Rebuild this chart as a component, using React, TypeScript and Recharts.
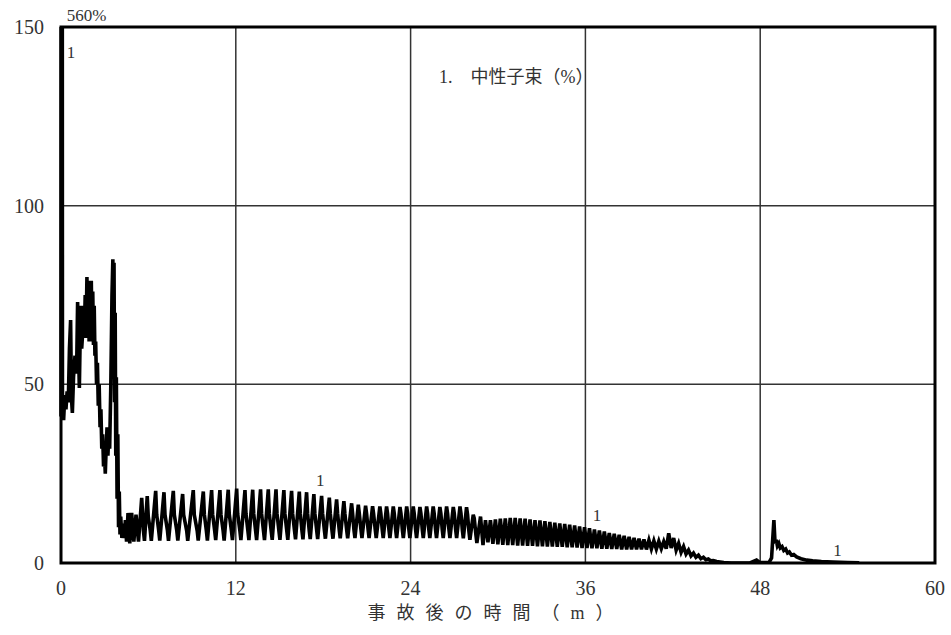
import {
  CartesianGrid,
  Label,
  Line,
  LineChart,
  ReferenceArea,
  ReferenceDot,
  XAxis,
  YAxis,
} from "recharts";

// 中性子束 (%) vs. time after accident (min)
const startTime = [
  0.0, 0.05, 0.1, 0.18, 0.26, 0.34, 0.42, 0.5, 0.58, 0.66, 0.72, 0.78, 0.86,
  0.96, 1.02, 1.08, 1.14, 1.2, 1.26, 1.35, 1.42, 1.48, 1.55, 1.6, 1.66, 1.72,
  1.78, 1.83, 1.88, 1.93, 1.98, 2.03, 2.08, 2.13, 2.18, 2.23, 2.28, 2.33, 2.38,
  2.44, 2.5, 2.56, 2.62, 2.68, 2.74, 2.8, 2.86, 2.92, 2.98, 3.04, 3.1, 3.16,
  3.22, 3.28, 3.34, 3.42, 3.5, 3.56, 3.6, 3.64, 3.68, 3.72, 3.76, 3.8, 3.85,
  3.9, 3.95, 4.0, 4.05, 4.1, 4.18, 4.26, 4.34, 4.42, 4.5, 4.6, 4.72, 4.85, 5.0,
  5.15, 5.32,
];
const startFlux = [
  41, 560, 44, 40, 47, 43, 48, 45, 60, 68, 46, 42, 52, 58, 53, 56, 73, 60, 49,
  72, 60, 64, 72, 63, 75, 64, 80, 63, 79, 62, 78, 62, 79, 63, 76, 61, 72, 58,
  62, 50, 56, 44, 50, 38, 43, 32, 36, 27, 31, 25, 32, 38, 30, 36, 32, 50, 75,
  85, 60, 84, 45, 70, 30, 52, 18, 36, 10, 20, 8, 13, 7, 11, 7, 12, 6, 14, 5.5,
  14, 6, 13.5, 6,
];

// one row per swing: peak, band top, band bottom, trough
const swingTime = [
  5.54, 5.61, 5.66, 5.73,
  5.92, 5.99, 6.13, 6.2,
  6.5, 6.57, 6.71, 6.78,
  7.07, 7.14, 7.31, 7.38,
  7.71, 7.78, 7.95, 8.02,
  8.35, 8.42, 8.63, 8.7,
  9.08, 9.15, 9.35, 9.42,
  9.77, 9.84, 9.98, 10.05,
  10.34, 10.41, 10.55, 10.62,
  10.91, 10.98, 11.13, 11.2,
  11.48, 11.55, 11.7, 11.77,
  12.06, 12.13, 12.28, 12.35,
  12.63, 12.7, 12.83, 12.9,
  13.16, 13.23, 13.36, 13.43,
  13.7, 13.77, 13.9, 13.97,
  14.23, 14.3, 14.43, 14.5,
  14.76, 14.83, 14.96, 15.03,
  15.3, 15.37, 15.5, 15.57,
  15.83, 15.9, 16.03, 16.1,
  16.36, 16.43, 16.54, 16.61,
  16.86, 16.93, 17.04, 17.11,
  17.36, 17.43, 17.55, 17.62,
  17.89, 17.96, 18.08, 18.15,
  18.42, 18.49, 18.6, 18.67,
  18.92, 18.99, 19.1, 19.17,
  19.42, 19.49, 19.61, 19.68,
  19.95, 20.02, 20.11, 20.18,
  20.41, 20.48, 20.59, 20.66,
  20.91, 20.98, 21.08, 21.15,
  21.39, 21.46, 21.57, 21.64,
  21.89, 21.96, 22.05, 22.12,
  22.35, 22.42, 22.51, 22.58,
  22.81, 22.88, 22.97, 23.04,
  23.27, 23.34, 23.43, 23.5,
  23.73, 23.8, 23.88, 23.95,
  24.18, 24.25, 24.34, 24.41,
  24.64, 24.71, 24.8, 24.87,
  25.1, 25.17, 25.25, 25.32,
  25.55, 25.62, 25.71, 25.78,
  26.01, 26.08, 26.17, 26.24,
  26.47, 26.54, 26.63, 26.7,
  26.93, 27.0, 27.09, 27.16,
  27.39, 27.46, 27.55, 27.62,
  27.84, 27.91, 28.0, 28.07,
  28.3, 28.37, 28.48, 28.55,
];
const swingFlux = [
  18.2, 13.0, 9.0, 6.2,
  18.7, 13.0, 9.0, 6.2,
  20.2, 13.5, 9.0, 6.3,
  19.8, 13.5, 9.0, 6.2,
  20.2, 13.5, 9.0, 6.3,
  19.3, 13.5, 9.0, 6.2,
  20.4, 13.5, 9.0, 6.3,
  20.0, 13.6, 9.0, 6.3,
  20.4, 13.6, 9.0, 6.4,
  20.4, 13.6, 9.0, 6.3,
  20.5, 13.7, 9.0, 6.4,
  20.8, 13.7, 9.0, 6.4,
  20.4, 13.7, 9.0, 6.4,
  20.5, 13.8, 9.0, 6.4,
  20.6, 13.8, 9.0, 6.4,
  20.6, 13.8, 9.0, 6.5,
  20.6, 13.8, 9.0, 6.5,
  20.4, 13.8, 9.0, 6.5,
  20.2, 13.8, 9.1, 6.6,
  20.0, 13.8, 9.1, 6.6,
  19.8, 13.8, 9.1, 6.7,
  19.3, 13.8, 9.2, 6.7,
  18.8, 13.8, 9.2, 6.8,
  18.3, 13.8, 9.2, 6.8,
  17.8, 13.8, 9.3, 6.9,
  17.3, 13.8, 9.3, 6.9,
  16.7, 13.8, 9.3, 7.0,
  16.3, 13.8, 9.4, 7.0,
  16.0, 13.8, 9.4, 7.0,
  15.9, 13.8, 9.4, 7.0,
  15.8, 13.8, 9.4, 7.0,
  15.8, 13.8, 9.4, 7.0,
  15.8, 13.8, 9.4, 7.0,
  15.7, 13.8, 9.4, 7.0,
  15.8, 13.8, 9.4, 7.0,
  15.8, 13.8, 9.4, 7.0,
  15.7, 13.8, 9.4, 7.0,
  15.8, 13.8, 9.4, 7.0,
  15.8, 13.8, 9.4, 7.0,
  15.7, 13.8, 9.4, 7.0,
  15.8, 13.8, 9.4, 7.0,
  15.7, 13.8, 9.4, 7.0,
  15.8, 13.8, 9.3, 6.9,
  15.6, 13.6, 9.0, 6.5,
  13.5, 12.5, 8.0, 5.6,
];

const decayTime = [
  28.8, 28.97, 29.14, 29.31, 29.48, 29.65, 29.82, 29.99, 30.16, 30.33, 30.5,
  30.67, 30.84, 31.01, 31.18, 31.35, 31.52, 31.69, 31.86, 32.03, 32.2, 32.37,
  32.54, 32.71, 32.88, 33.05, 33.22, 33.39, 33.56, 33.73, 33.9, 34.07, 34.24,
  34.41, 34.58, 34.75, 34.92, 35.09, 35.26, 35.43, 35.6, 35.77, 35.94, 36.11,
  36.28, 36.45, 36.62, 36.79, 36.96, 37.13, 37.3, 37.47, 37.64, 37.81, 37.98,
  38.15, 38.32, 38.49, 38.66, 38.83, 39.0, 39.17, 39.34, 39.51, 39.68, 39.85,
  40.02, 40.19, 40.36, 40.53, 40.7, 40.87, 41.04, 41.21, 41.38, 41.55, 41.72,
  41.89, 42.06, 42.23, 42.4, 42.57, 42.74, 42.91, 43.08, 43.25, 43.42, 43.59,
  43.76, 43.93, 44.1, 44.27, 44.44, 44.61, 44.78, 45.0, 45.5, 46.0,
];
const decayFlux = [
  13.0, 5.0, 12.0, 5.8, 12.0, 5.4, 12.2, 5.2, 12.4, 5.1, 12.5, 5.0, 12.6, 5.0,
  12.6, 4.9, 12.5, 4.9, 12.4, 4.8, 12.2, 4.8, 12.0, 4.7, 11.9, 4.7, 11.7, 4.6,
  11.5, 4.6, 11.3, 4.5, 11.1, 4.5, 10.9, 4.4, 10.7, 4.4, 10.5, 4.3, 10.2, 4.2,
  10.0, 4.2, 9.7, 4.1, 9.4, 4.1, 9.1, 4.0, 8.8, 4.0, 8.4, 3.9, 8.2, 3.9, 7.9,
  3.8, 7.6, 3.8, 7.3, 3.8, 7.0, 3.8, 6.8, 3.8, 6.6, 3.8, 6.4, 3.9, 6.2, 3.9,
  6.1, 4.0, 6.0, 4.0, 8.3, 4.2, 7.0, 3.6, 5.5, 3.0, 4.6, 2.5, 3.6, 2.0, 2.8,
  1.6, 2.2, 1.2, 1.6, 0.9, 1.1, 0.6, 0.7, 0.4, 0.15, 0.0,
];

const reboundTime = [
  47.3, 47.75, 48.0, 48.6, 48.78, 48.94, 49.02, 49.1, 49.18, 49.28, 49.38,
  49.5, 49.62, 49.75, 49.88, 50.0, 50.15, 50.3, 50.5, 50.8, 51.2, 51.6, 52.2,
  53.0, 54.0, 54.8,
];
const reboundFlux = [
  0.0, 0.8, 0.1, 0.1, 1.4, 12.0, 5.5, 6.5, 4.8, 5.5, 4.2, 4.6, 3.5, 3.9, 2.8,
  3.1, 2.2, 2.4, 1.7, 1.2, 0.8, 0.6, 0.4, 0.25, 0.1, 0.05,
];

const xTicks = [0, 12, 24, 36, 48, 60];
const yTicks = [0, 50, 100, 150];

// curve tags "1" placed along the trace
const tagTime = [0.69, 17.8, 36.8, 53.3];
const tagFlux = [143, 23.2, 13.4, 3.6];

const data = [
  ...startTime.map((t, i) => ({ t, v: startFlux[i] })),
  ...swingTime.map((t, i) => ({ t, v: swingFlux[i] })),
  ...decayTime.map((t, i) => ({ t, v: decayFlux[i] })),
  ...reboundTime.map((t, i) => ({ t, v: reboundFlux[i] })),
];

const serif = "'Liberation Serif', 'DejaVu Serif', serif";
const cjk = "'Liberation Serif', 'Noto Sans CJK JP', serif";

const AxisTitle = ({ viewBox }: any) => (
  <text
    x={viewBox.x + viewBox.width / 2 - 2}
    y={viewBox.y + 56}
    textAnchor="middle"
    fontFamily={cjk}
    fontSize={18}
    fill="#333"
    letterSpacing={11}
  >
    事故後の時間（m）
  </text>
);

export default function App() {
  return (
    <div style={{ position: "absolute", left: 0, top: 0 }}>
      <LineChart
        width={951}
        height={635}
        data={data}
        margin={{ top: 27, right: 16, bottom: 27, left: 0 }}
      >
        <CartesianGrid stroke="#333" strokeWidth={1.5} />
        <XAxis
          dataKey="t"
          type="number"
          domain={[0, 60]}
          ticks={xTicks}
          height={45}
          axisLine={false}
          tickLine={false}
          tickSize={0}
          tickMargin={18}
          tick={{ fontFamily: serif, fontSize: 20, fill: "#333" }}
        >
          <Label content={AxisTitle} />
        </XAxis>
        <YAxis
          type="number"
          domain={[0, 150]}
          ticks={yTicks}
          allowDataOverflow
          width={61}
          axisLine={false}
          tickLine={false}
          tickSize={0}
          tickMargin={17}
          tick={{ fontFamily: serif, fontSize: 20, fill: "#333" }}
        />
        <ReferenceArea
          x1={0}
          x2={60}
          y1={0}
          y2={150}
          fill="none"
          stroke="#000"
          strokeWidth={3}
        />
        <Line
          dataKey="v"
          stroke="#000"
          strokeWidth={3.6}
          dot={false}
          isAnimationActive={false}
        />
        {tagTime.map((t, i) => (
          <ReferenceDot
            key={i}
            x={t}
            y={tagFlux[i]}
            r={0}
            fill="none"
            stroke="none"
            label={{
              value: "1",
              position: "center",
              fontFamily: serif,
              fontSize: 17,
              fill: "#333",
            }}
          />
        ))}
        <ReferenceDot
          x={25.6}
          y={136}
          r={0}
          fill="none"
          stroke="none"
          label={{
            value: "1.　中性子束（%）",
            position: "right",
            fontFamily: cjk,
            fontSize: 18,
            fill: "#333",
          }}
        />
        <ReferenceDot
          x={0.05}
          y={153.4}
          r={0}
          fill="none"
          stroke="none"
          ifOverflow="visible"
          label={{
            value: "560%",
            position: "right",
            fontFamily: serif,
            fontSize: 17,
            fill: "#333",
          }}
        />
      </LineChart>
    </div>
  );
}
